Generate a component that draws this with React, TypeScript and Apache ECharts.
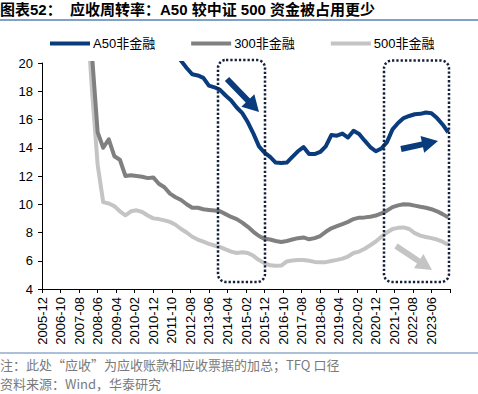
import React, { useEffect, useRef } from "react";
import * as echarts from "echarts";

// Quarter-end report dates
const dates = [
  "2007-12",
  "2008-03", "2008-06", "2008-09", "2008-12",
  "2009-03", "2009-06", "2009-09", "2009-12",
  "2010-03", "2010-06", "2010-09", "2010-12",
  "2011-03", "2011-06", "2011-09", "2011-12",
  "2012-03", "2012-06", "2012-09", "2012-12",
  "2013-03", "2013-06", "2013-09", "2013-12",
  "2014-03", "2014-06", "2014-09", "2014-12",
  "2015-03", "2015-06", "2015-09", "2015-12",
  "2016-03", "2016-06", "2016-09", "2016-12",
  "2017-03", "2017-06", "2017-09", "2017-12",
  "2018-03", "2018-06", "2018-09", "2018-12",
  "2019-03", "2019-06", "2019-09", "2019-12",
  "2020-03", "2020-06", "2020-09", "2020-12",
  "2021-03", "2021-06", "2021-09", "2021-12",
  "2022-03", "2022-06", "2022-09", "2022-12",
  "2023-03", "2023-06", "2023-09", "2023-12",
  "2024-03",
];

const a50: (number | null)[] = [
  null, null, null, null, null, null, null, null, null, null, null, null, null, null, null, null,
  21.0, 20.15, 19.65, 19.2, 19.12, 18.95, 18.4, 18.28, 18.1, 17.7, 17.35, 16.85, 16.45, 15.8,
  15.0, 14.1, 13.65, 13.35, 12.95, 12.92, 12.95, 13.35, 13.75, 14.05, 13.55, 13.55, 13.7, 14.1,
  14.9, 14.85, 15.0, 14.72, 15.2, 14.98, 14.5, 14.05, 13.75, 13.95, 14.4, 15.3, 15.75, 16.1,
  16.25, 16.37, 16.4, 16.5, 16.45, 16.1, 15.65, 15.1,
];

const csi300 = [
  30, 20.5, 15.1, 14.0, 14.6, 13.4, 13.15, 12.0, 12.05, 12.0, 11.95, 11.85, 11.9, 11.45, 11.2,
  10.75, 10.5, 10.3, 10.0, 9.75, 9.75, 9.65, 9.6, 9.55, 9.5, 9.3, 9.1, 8.95, 8.7, 8.4, 8.05,
  7.75, 7.55, 7.5, 7.4, 7.33, 7.4, 7.5, 7.6, 7.65, 7.52, 7.6, 7.75, 8.05, 8.3, 8.45, 8.6, 8.75,
  8.95, 9.05, 9.07, 9.12, 9.2, 9.35, 9.55, 9.8, 9.92, 10.0, 9.98, 9.9, 9.82, 9.75, 9.65, 9.5,
  9.3, 9.07,
];

const csi500 = [
  24, 18.0, 12.8, 10.15, 10.05, 9.87, 9.5, 9.22, 9.5, 9.57, 9.45, 9.2, 9.0, 8.95, 8.86, 8.75,
  8.55, 8.25, 8.0, 7.7, 7.5, 7.35, 7.2, 7.08, 6.97, 6.8, 6.65, 6.55, 6.6, 6.55, 6.35, 6.05,
  5.83, 5.68, 5.65, 5.66, 5.95, 6.02, 6.06, 6.06, 6.0, 5.92, 5.9, 5.9, 5.98, 6.06, 6.15, 6.3,
  6.55, 6.65, 6.85, 7.1, 7.36, 7.7, 8.0, 8.25, 8.33, 8.36, 8.25, 7.95, 7.78, 7.68, 7.6, 7.5,
  7.35, 7.13,
];

const xTickLabels = [
  "2005-12", "2006-10", "2007-08", "2008-06", "2009-04", "2010-02", "2010-12", "2011-10",
  "2012-08", "2013-06", "2014-04", "2015-02", "2015-12", "2016-10", "2017-08", "2018-06",
  "2019-04", "2020-02", "2020-12", "2021-10", "2022-08", "2023-06",
];

const seriesNames = ["A50非金融", "300非金融", "500非金融"];

const toMonth = (d: string) => {
  const [y, m] = d.split("-").map(Number);
  return (y - 2005) * 12 + (m - 12);
};

const pairs = (vals: (number | null)[]) =>
  dates
    .map((d, i) => [toMonth(d), vals[i]] as [number, number | null])
    .filter((p) => p[1] !== null);

function arrowPts(x1: number, y1: number, x2: number, y2: number, sw: number, hw: number, hl: number) {
  const dx = x2 - x1, dy = y2 - y1;
  const L = Math.sqrt(dx * dx + dy * dy);
  const ux = dx / L, uy = dy / L;
  const nx = -uy, ny = ux;
  const bx = x2 - ux * hl, by = y2 - uy * hl;
  return [
    [x1 - nx * sw, y1 - ny * sw],
    [bx - nx * sw, by - ny * sw],
    [bx - nx * hw, by - ny * hw],
    [x2, y2],
    [bx + nx * hw, by + ny * hw],
    [bx + nx * sw, by + ny * sw],
    [x1 + nx * sw, y1 + ny * sw],
  ];
}

const LATIN = "'Liberation Sans', Arial, 'Noto Sans CJK SC', sans-serif";
const CJK = "'Noto Sans CJK SC', 'Liberation Sans', sans-serif";
const BLUE = "#0a3b7c";
const GREY = "#808080";
const LIGHT = "#c4c4c4";

export default function App() {
  const ref = useRef<HTMLDivElement>(null);
  useEffect(() => {
    document.body.style.margin = "0";
    if (!ref.current) return;
    const chart = echarts.init(ref.current, undefined, { renderer: "svg" });
    const colors = [BLUE, GREY, LIGHT];
    const data = [a50, csi300, csi500];
    chart.setOption({
      animation: false,
      textStyle: { fontFamily: LATIN },
      grid: { left: 42, right: 28, top: 63, bottom: 105, containLabel: false, outerBoundsMode: "none" },
      legend: {
        left: 45,
        top: 32,
        icon: "rect",
        itemWidth: 40,
        itemHeight: 4,
        itemGap: 36,
        textStyle: { fontSize: 13, color: "#000", fontFamily: LATIN, padding: [0, 0, 0, -2] },
        data: seriesNames,
      },
      xAxis: {
        type: "value",
        min: 0,
        max: 220,
        interval: 10,
        splitLine: { show: false },
        axisLine: { show: true, lineStyle: { color: "#000", width: 1 } },
        axisTick: { show: true, length: 4, lineStyle: { color: "#000" } },
        axisLabel: {
          rotate: 90,
          fontSize: 13,
          color: "#000",
          margin: 8,
          formatter: (v: number) => xTickLabels[Math.round(v / 10)] ?? "",
        },
      },
      yAxis: {
        type: "value",
        min: 4,
        max: 20,
        interval: 2,
        splitLine: { show: false },
        axisLine: { show: true, lineStyle: { color: "#000", width: 1 } },
        axisTick: { show: true, length: 4, lineStyle: { color: "#000" } },
        axisLabel: { fontSize: 13, color: "#000", margin: 9 },
      },
      series: seriesNames.map((name, i) => ({
        name,
        type: "line",
        showSymbol: false,
        symbol: "none",
        clip: true,
        data: pairs(data[i]),
        itemStyle: { color: colors[i] },
        lineStyle: { color: colors[i], width: 4, join: "round" },
        z: 3 - i,
      })),
      graphic: [
        {
          type: "text",
          left: 0,
          top: 2,
          style: {
            text: "图表52：  应收周转率：A50 较中证 500 资金被占用更少",
            font: `bold 15px ${LATIN}`,
            fill: "#000",
          },
        },
        {
          type: "line",
          shape: { x1: 0, y1: 20, x2: 478, y2: 20 },
          style: { stroke: "#5b80b2", lineWidth: 1.5 },
        },
        {
          type: "line",
          shape: { x1: 0, y1: 353, x2: 478, y2: 353 },
          style: { stroke: "#5b80b2", lineWidth: 1 },
        },
        {
          type: "text",
          left: 0,
          top: 358,
          style: {
            text: "注：此处“应收”为应收账款和应收票据的加总；TFQ 口径",
            font: `13px ${CJK}`,
            fill: "#7a7a7a",
          },
        },
        {
          type: "text",
          left: 0,
          top: 377,
          style: {
            text: "资料来源：Wind，华泰研究",
            font: `13px ${CJK}`,
            fill: "#7a7a7a",
          },
        },
        {
          type: "rect",
          shape: { x: 218, y: 60, width: 47, height: 222, r: 8 },
          style: { fill: "none", stroke: "#14213d", lineWidth: 2.5, lineDash: [2.3, 2] },
          z: 10,
        },
        {
          type: "rect",
          shape: { x: 384, y: 60.5, width: 65, height: 221.5, r: 8 },
          style: { fill: "none", stroke: "#14213d", lineWidth: 2.5, lineDash: [2.3, 2] },
          z: 10,
        },
        {
          type: "polygon",
          shape: { points: arrowPts(227, 79, 259, 112, 3, 9, 16) },
          style: { fill: BLUE },
          z: 10,
        },
        {
          type: "polygon",
          shape: { points: arrowPts(401, 149, 438, 141, 3, 8.5, 16) },
          style: { fill: BLUE },
          z: 10,
        },
        {
          type: "polygon",
          shape: { points: arrowPts(396, 246, 432, 270, 3, 8.5, 16) },
          style: { fill: LIGHT },
          z: 10,
        },
      ],
    });
    return () => chart.dispose();
  }, []);
  return <div ref={ref} style={{ width: 478, height: 394 }} />;
}
